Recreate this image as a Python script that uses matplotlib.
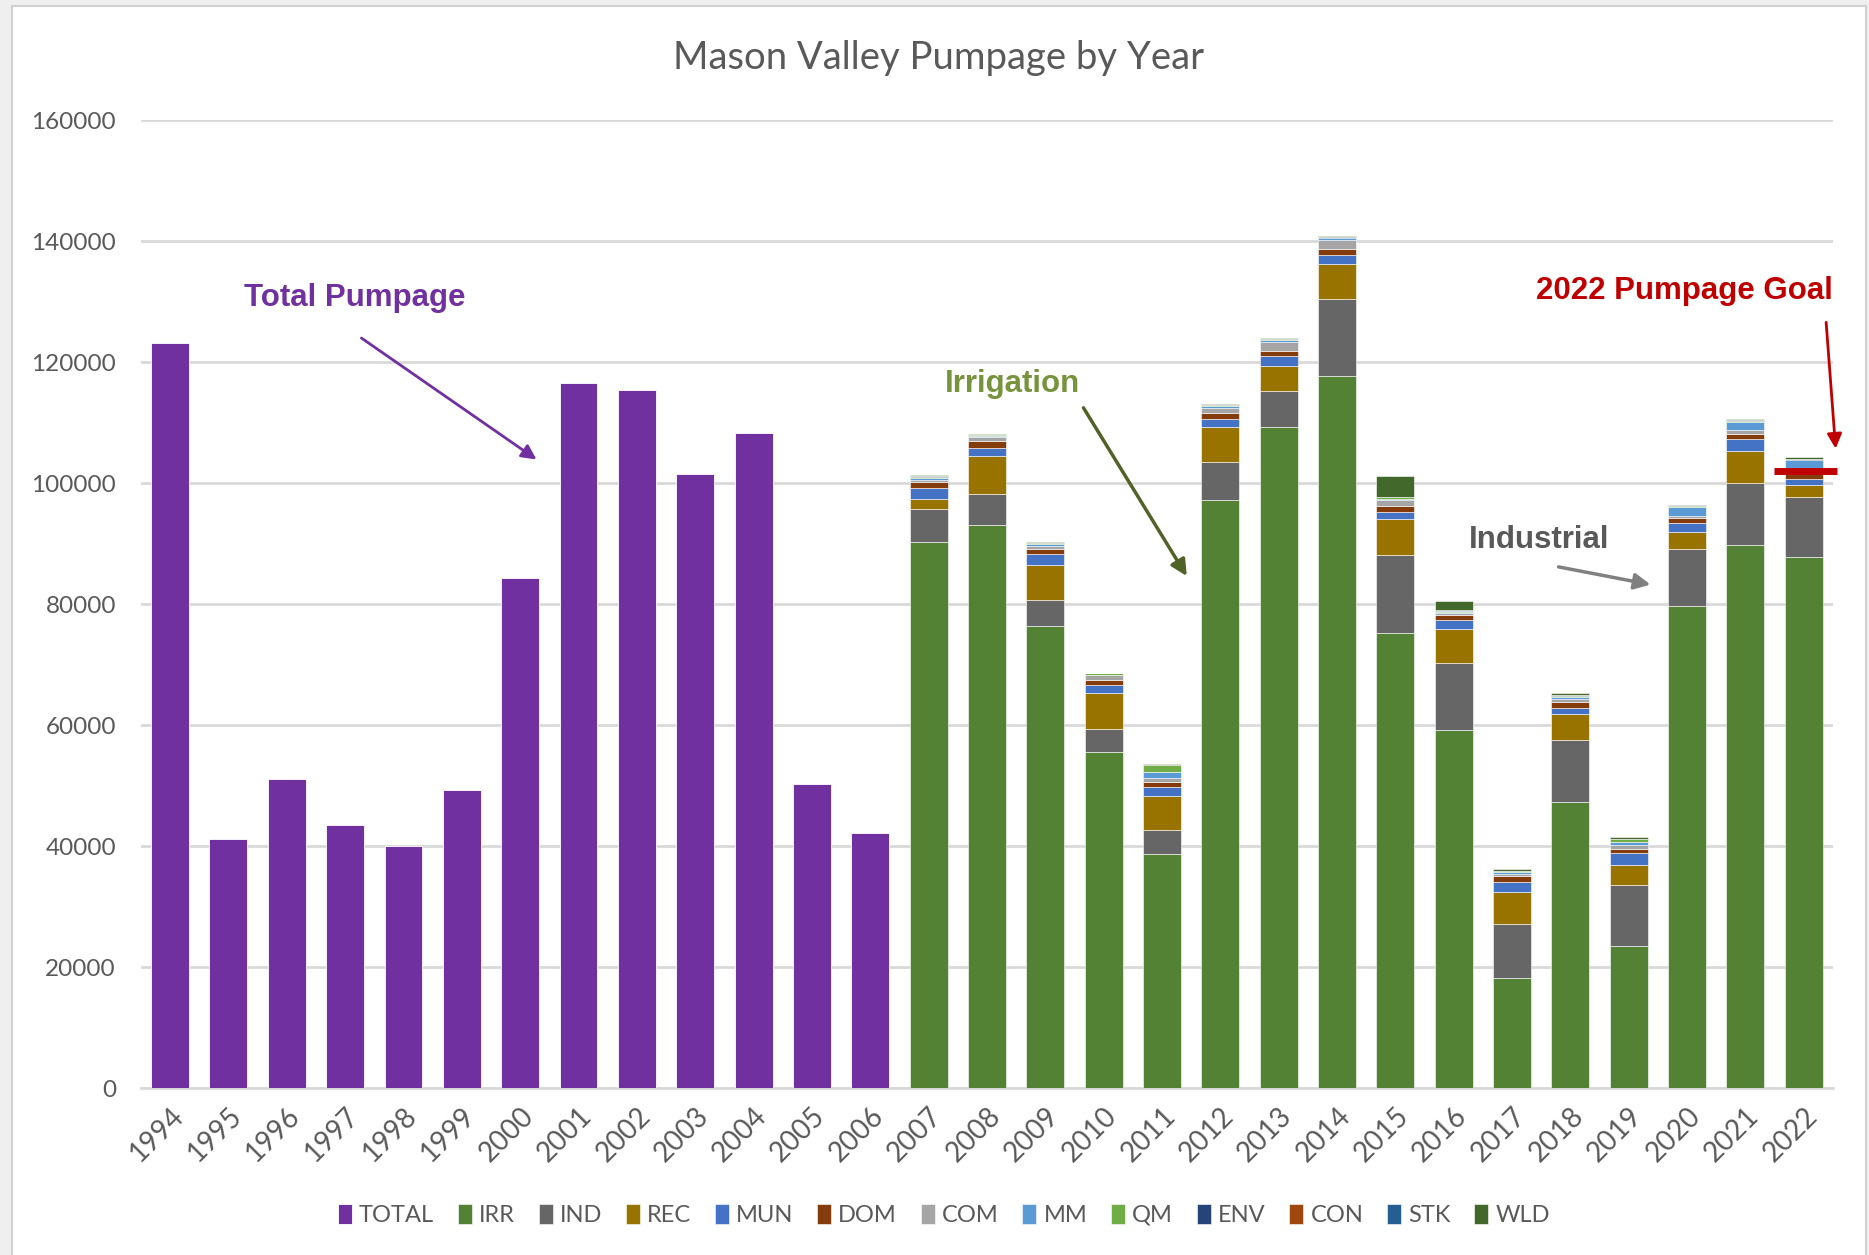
import matplotlib.pyplot as plt
import numpy as np
from matplotlib.patches import Rectangle

plt.rcParams['font.family'] = ['Lato', 'DejaVu Sans']

# Total pumpage (only total reported before 2007)
years_total = ['1994', '1995', '1996', '1997', '1998', '1999', '2000',
               '2001', '2002', '2003', '2004', '2005', '2006']
total = [123200, 41200, 51200, 43500, 40000, 49300, 84300,
         116600, 115500, 101500, 108400, 50400, 42200]

# Pumpage split by use, 2007-2022
years_split = ['2007', '2008', '2009', '2010', '2011', '2012', '2013', '2014',
               '2015', '2016', '2017', '2018', '2019', '2020', '2021', '2022']
irr = [90400, 93200, 76500, 55600, 38700, 97200, 109300, 117700,
       75300, 59300, 18300, 47400, 23600, 79700, 89800, 87900]
ind = [5400, 5000, 4300, 3800, 4100, 6300, 6000, 12800,
       12800, 11100, 8900, 10200, 10100, 9400, 10300, 9900]
rec = [1600, 6300, 5800, 5900, 5600, 5800, 4200, 5800,
       6000, 5600, 5300, 4300, 3300, 2900, 5300, 1900]
mun = [1800, 1400, 1800, 1400, 1400, 1400, 1600, 1400,
       1200, 1500, 1600, 1000, 1900, 1400, 2000, 1000]
dom = [1000, 1100, 700, 800, 800, 1000, 800, 1000,
       1000, 700, 1000, 1000, 700, 900, 700, 1000]
com = [400, 600, 600, 800, 700, 700, 1500, 1500,
       1000, 400, 400, 500, 600, 400, 700, 800]
mm = [300, 200, 300, 100, 1000, 400, 300, 300,
      200, 200, 300, 300, 500, 1400, 1300, 1300]
qm = [250, 200, 150, 200, 1100, 200, 200, 100,
      200, 200, 200, 200, 500, 200, 200, 100]
env = [50, 0, 0, 0, 50, 0, 0, 0,
       0, 0, 0, 100, 0, 0, 100, 100]
con = [50, 0, 0, 0, 0, 0, 0, 0,
       0, 0, 0, 0, 0, 0, 0, 0]
stk = [50, 0, 0, 0, 0, 0, 0, 100,
       100, 100, 0, 0, 0, 0, 100, 100]
wld = [100, 100, 150, 100, 100, 200, 200, 200,
       3400, 1400, 300, 400, 400, 200, 200, 200]

goal_2022 = 102000

series = [('IRR', irr, '#548235'), ('IND', ind, '#666666'), ('REC', rec, '#997300'),
          ('MUN', mun, '#4472C4'), ('DOM', dom, '#843C0C'), ('COM', com, '#A5A5A5'),
          ('MM', mm, '#5B9BD5'), ('QM', qm, '#70AD47'), ('ENV', env, '#264478'),
          ('CON', con, '#9E480E'), ('STK', stk, '#255E91'), ('WLD', wld, '#43682B')]

fig = plt.figure(figsize=(18.69, 12.55), dpi=100, facecolor='#EFEFEF')
fig.patches.append(Rectangle((12 / 1869, -0.01), 1854 / 1869, 1.01 - 6 / 1255,
                             transform=fig.transFigure, facecolor='white',
                             edgecolor='#D0D0D0', lw=1.5, zorder=-5))
ax = fig.add_axes([0.0754, 0.1327, 0.9053, 0.7713])
ax.set_zorder(3)
ax.set_facecolor('none')

all_years = years_total + years_split
xpos = {y: i for i, y in enumerate(all_years)}
w = 0.65

ax.bar([xpos[y] for y in years_total], total, width=w, color='#7030A0',
       edgecolor='white', linewidth=0.6, label='TOTAL', zorder=3)
xs = [xpos[y] for y in years_split]
bottom = np.zeros(len(years_split))
for name, vals, col in series:
    ax.bar(xs, vals, bottom=bottom, width=w, color=col, edgecolor='white',
           linewidth=0.4, label=name, zorder=3)
    bottom += np.array(vals)

ax.set_xlim(-0.5, len(all_years) - 0.5)
ax.set_ylim(0, 160000)
ax.set_yticks(range(0, 160001, 20000))
ax.set_xticks(range(len(all_years)))
ax.set_xticklabels(all_years, rotation=45, ha='right', rotation_mode='anchor')
ax.tick_params(axis='both', length=0, labelcolor='#595959')
ax.tick_params(axis='y', pad=18, labelsize=17.5)
ax.tick_params(axis='x', pad=10, labelsize=20)
ax.grid(axis='y', color='#D9D9D9', lw=2, zorder=0)
for s in ['top', 'right', 'left']:
    ax.spines[s].set_visible(False)
ax.spines['bottom'].set_color('#D9D9D9')
ax.spines['bottom'].set_linewidth(2)

# 2022 goal marker
ax.plot([27.49, 28.57], [goal_2022, goal_2022], color='#C00000', lw=5,
        solid_capstyle='butt', clip_on=False, zorder=5)

bold = dict(family='Liberation Sans', fontweight='bold', fontsize=22.5)
ax.text(1.27, 130600, 'Total Pumpage', color='#7030A0', va='center', ha='left', **bold)
ax.annotate('', xy=(6.32, 103700), xytext=(3.24, 124300),
            arrowprops=dict(arrowstyle='-|>', color='#7030A0', lw=2, mutation_scale=22))
ax.text(13.28, 116400, 'Irrigation', color='#77933C', va='center', ha='left', **bold)
ax.annotate('', xy=(17.45, 84300), xytext=(15.63, 112900),
            arrowprops=dict(arrowstyle='-|>', color='#4F6228', lw=2.5, mutation_scale=24))
ax.text(22.26, 90600, 'Industrial', color='#595959', va='center', ha='left', **bold)
ax.annotate('', xy=(25.42, 83200), xytext=(23.75, 86300),
            arrowprops=dict(arrowstyle='-|>', color='#808080', lw=2.5, mutation_scale=24))
ax.text(28.5, 131800, '2022 Pumpage Goal', color='#C00000', va='center', ha='right', **bold)
ax.annotate('', xy=(28.55, 105300), xytext=(28.38, 127100), annotation_clip=False,
            arrowprops=dict(arrowstyle='-|>', color='#C00000', lw=2, mutation_scale=22))

fig.text(938 / 1869, 1 - 58 / 1255, 'Mason Valley Pumpage by Year', ha='center',
         va='center', fontsize=27.5, color='#595959')

leg = fig.legend(loc='center', bbox_to_anchor=(0.505, 1 - 1215 / 1255), ncol=13,
                 frameon=False, fontsize=17, handlelength=0.6, handleheight=0.9,
                 handletextpad=0.3, columnspacing=1.0)
for t in leg.get_texts():
    t.set_color('#595959')

fig.savefig('out.png', dpi=100, facecolor=fig.get_facecolor())
